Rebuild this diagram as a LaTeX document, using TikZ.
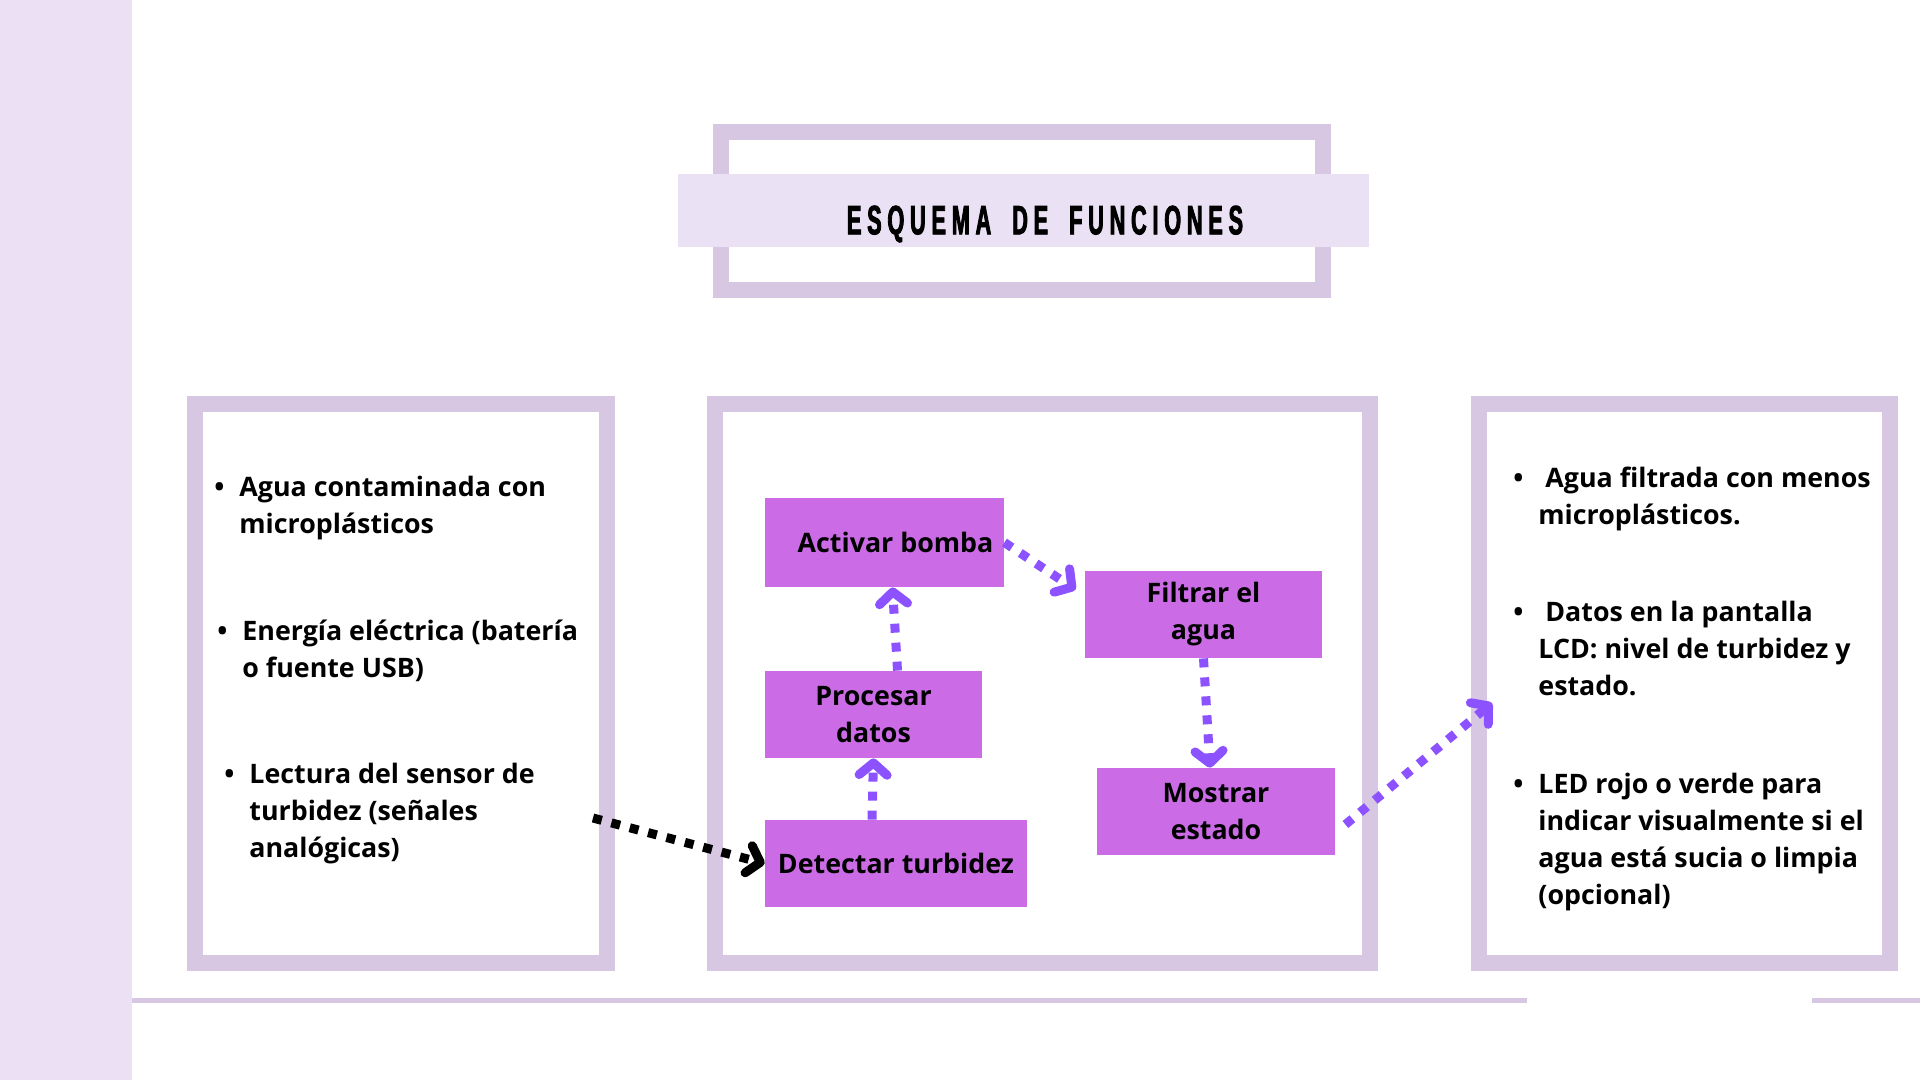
\documentclass[tikz,border=0pt]{standalone}
\usepackage{fontspec}
\setmainfont{Open Sans}
\newfontfamily\titlefont[FakeStretch=0.53,LetterSpace=14,FakeBold=2]{Liberation Sans}
\usetikzlibrary{arrows.meta}
\definecolor{stripe}{HTML}{EBE0F4}
\definecolor{frame}{HTML}{D7C7E3}
\definecolor{band}{HTML}{EBE1F4}
\definecolor{boxfill}{HTML}{CB6CE6}
\definecolor{flowviolet}{HTML}{8C52FF}
\newcommand\boxfont{\fontsize{13.4pt}{18.5pt}\selectfont}
\newcommand\bul{\llap{\textbullet\hspace{7.5pt}}}
\newcommand\wsp{\hspace{10.5pt}}
\tikzset{
  panel/.style={draw=frame,line width=8pt},
  fnbox/.style={fill=boxfill,inner sep=0pt,align=center,font=\bfseries\boxfont},
  item/.style={anchor=base west,inner sep=0pt,align=left,font=\bfseries\boxfont},
  flow/.style={draw=flowviolet,line width=4.5pt,dash pattern=on 4.5pt off 5pt,-{Straight Barb[length=6pt,width=14pt,round]}},
  inflow/.style={flow,draw=black}
}

\begin{document}
\begin{tikzpicture}[x=0.5pt,y=-0.5pt]
  \useasboundingbox (0,0) rectangle (1920,1080);
  % side strip and base line
  \fill[stripe] (0,0) rectangle (132,1080);
  \fill[frame] (132,998) rectangle (1527,1003);
  \fill[frame] (1812,998) rectangle (1920,1003);
  % title
  \draw[panel] (721,132) rectangle (1323,290);
  \fill[band] (678,174) rectangle (1369,247);
  \node[font=\titlefont\bfseries\fontsize{20.5pt}{21pt}\selectfont] (title) at (1045,224) {ESQUEMA\wsp DE\wsp FUNCIONES};
  % panels
  \draw[panel] (195,404) rectangle (607,963);
  \draw[panel] (715,404) rectangle (1370,963);
  \draw[panel] (1479,404) rectangle (1890,963);
  % inputs (anchored at the last line)
  \node[item] (in1) at (239,533) {\bul Agua contaminada con\\microplásticos};
  \node[item] (in2) at (242,677) {\bul Energía eléctrica (batería\\o fuente USB)};
  \node[item] (in3) at (249,857) {\bul Lectura del sensor de\\turbidez (señales\\analógicas)};
  % functions
  \node[fnbox,minimum width=119.5pt,minimum height=44.5pt] (act) at (884.5,542.5) {\hspace*{11pt}Activar bomba};
  \node[fnbox,minimum width=118.5pt,minimum height=43.5pt] (fil) at (1203.5,614.5) {Filtrar el\\agua};
  \node[fnbox,minimum width=108.5pt,minimum height=43.5pt] (pro) at (873.5,714.5) {Procesar\\datos};
  \node[fnbox,minimum width=119pt,minimum height=43.5pt] (mos) at (1216,811.5) {Mostrar\\estado};
  \node[fnbox,minimum width=131pt,minimum height=43.5pt] (det) at (896,863.5) {Detectar turbidez};
  % outputs
  \node[item] (out1) at (1538,524) {\bul\hspace*{3.5pt}Agua filtrada con menos\\microplásticos.};
  \node[item] (out2) at (1538,695) {\bul\hspace*{3.5pt}Datos en la pantalla\\LCD: nivel de turbidez y\\estado.};
  \node[item] (out3) at (1538,904) {\bul LED rojo o verde para\\indicar visualmente si el\\agua está sucia o limpia\\(opcional)};
  % connectors
  \coordinate (intail) at (593,818);
  \coordinate (outtip) at (1492,703);
  \draw[inflow] (intail) -- (det.west);
  \draw[flow] ([xshift=-12pt]det.north) -- (pro.south);
  \draw[flow] ([xshift=12pt]pro.north) -- ([xshift=4pt]act.south);
  \draw[flow] (act.east) -- ([xshift=-4.5pt,yshift=-9.5pt]fil.north west);
  \draw[flow] (fil.south) -- ([xshift=-3pt]mos.north);
  \draw[flow] ([xshift=5pt,yshift=-6.5pt]mos.east) -- (outtip);
\end{tikzpicture}
\end{document}
